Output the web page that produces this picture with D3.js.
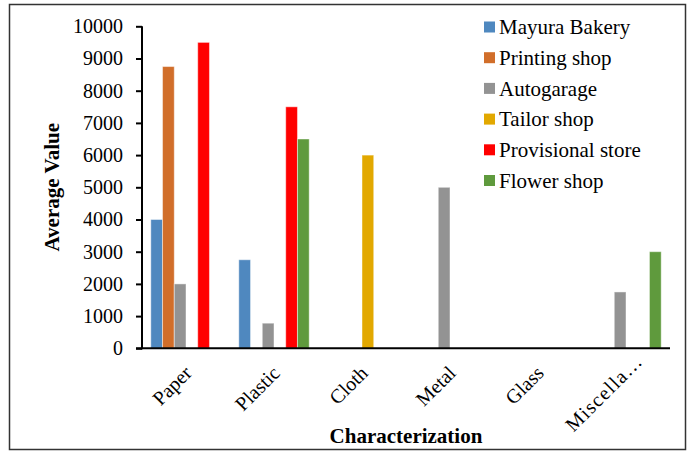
<!DOCTYPE html>
<html>
<head>
<meta charset="utf-8">
<script src="https://cdn.jsdelivr.net/npm/d3@7"></script>
<style>
  html, body { margin: 0; padding: 0; background: #fff; }
  svg { display: block; }
  svg text { font-family: "Liberation Serif", "Times New Roman", Times, "DejaVu Serif", serif !important; fill: #000; }
</style>
</head>
<body>
<svg id="chart" width="688" height="453"></svg>
<script>
const categories = ["Paper", "Plastic", "Cloth", "Metal", "Glass", "Miscella…"];
const seriesNames = ["Mayura Bakery", "Printing shop", "Autogarage", "Tailor shop", "Provisional store", "Flower shop"];
const mayuraBakery     = [4000, 2750, 0, 0, 0, 0];
const printingShop     = [8750, 0, 0, 0, 0, 0];
const autogarage       = [2000, 780, 0, 5000, 0, 1750];
const tailorShop       = [0, 0, 6000, 0, 0, 0];
const provisionalStore = [9500, 7500, 0, 0, 0, 0];
const flowerShop       = [0, 6500, 0, 0, 0, 3000];
const yTicks = [0, 1000, 2000, 3000, 4000, 5000, 6000, 7000, 8000, 9000, 10000];
const colors = ["#4F88BF", "#D16E2A", "#939393", "#E2A800", "#FF0000", "#5F9A3D"];

const seriesValues = [mayuraBakery, printingShop, autogarage, tailorShop, provisionalStore, flowerShop];
const FONT = "'Liberation Serif', 'Times New Roman', Times, 'DejaVu Serif', serif";

const svg = d3.select("#chart");
// outer border
svg.append("rect").attr("x", 9.5).attr("y", 4.5).attr("width", 676).attr("height", 445)
  .attr("fill", "#fff").attr("stroke", "#333").attr("stroke-width", 1.5);

const mLeft = 142, mRight = 670, mTop = 26.3, mBottom = 348.3;
const x0 = d3.scaleBand().domain(categories).range([mLeft, mRight]).paddingInner(0.2).paddingOuter(0.1);
const x1 = d3.scaleBand().domain(seriesNames).range([0, x0.bandwidth()]);
const y = d3.scaleLinear().domain([0, 10000]).range([mBottom, mTop]);

// bars
seriesNames.forEach((s, si) => {
  svg.append("g").selectAll("rect")
    .data(categories.map((c, ci) => ({ c, v: seriesValues[si][ci] })).filter(d => d.v > 0))
    .join("rect")
    .attr("x", d => x0(d.c) + x1(s))
    .attr("y", d => y(d.v))
    .attr("width", x1.bandwidth())
    .attr("height", d => y(0) - y(d.v))
    .attr("fill", colors[si])
    .attr("stroke", "#fff").attr("stroke-opacity", 0.45).attr("stroke-width", 1);
});

// y axis
const yAxis = svg.append("g").attr("transform", `translate(${mLeft},0)`)
  .call(d3.axisLeft(y).tickValues(yTicks).tickSize(6).tickPadding(13).tickFormat(d3.format("d")));
yAxis.attr("font-family", null).style("font-family", FONT);
yAxis.select(".domain").attr("stroke", "#000").attr("stroke-width", 2).attr("d", `M0,${mTop}V${mBottom + 1}`);
yAxis.selectAll(".tick line").attr("stroke", "#000").attr("stroke-width", 2);
yAxis.selectAll(".tick text").style("font-size", "20px").style("font-family", FONT).attr("fill", "#000");

// x axis
const xAxis = svg.append("g").attr("transform", `translate(0,${mBottom})`)
  .call(d3.axisBottom(x0).tickSize(0).tickPadding(0));
xAxis.attr("font-family", null).style("font-family", FONT);
xAxis.select(".domain").attr("stroke", "#000").attr("stroke-width", 2).attr("d", `M${mLeft - 6},0H${mRight}`);
xAxis.selectAll(".tick text")
  .style("font-size", "20px").style("font-family", FONT).attr("fill", "#000")
  .attr("text-anchor", "end")
  .attr("transform", d => d.includes("…") ? "translate(8,4) rotate(-45)" : "translate(-3,16) rotate(-45)")
  .style("letter-spacing", d => d.includes("…") ? "1.2px" : null)
  .attr("dy", "0.71em").attr("y", 0).attr("x", 0);

// axis titles
svg.append("text").attr("x", (mLeft + mRight) / 2).attr("y", 443)
  .attr("text-anchor", "middle").style("font-size", "21px").style("font-family", FONT).attr("font-weight", "bold")
  .text("Characterization");
svg.append("text").attr("transform", `translate(59,${(mTop + mBottom) / 2}) rotate(-90)`)
  .attr("text-anchor", "middle").style("font-size", "21px").style("font-family", FONT).attr("font-weight", "bold")
  .text("Average Value");

// legend
const lg = svg.append("g").attr("transform", "translate(484,27)");
seriesNames.forEach((s, i) => {
  const g = lg.append("g").attr("transform", `translate(0,${i * 30.7})`);
  g.append("rect").attr("x", 0).attr("y", -5.5).attr("width", 11).attr("height", 11).attr("fill", colors[i]);
  g.append("text").attr("x", 15).attr("y", 0).attr("dy", "0.35em")
    .style("font-size", "21px").style("font-family", FONT).text(s);
});
</script>
</body>
</html>
